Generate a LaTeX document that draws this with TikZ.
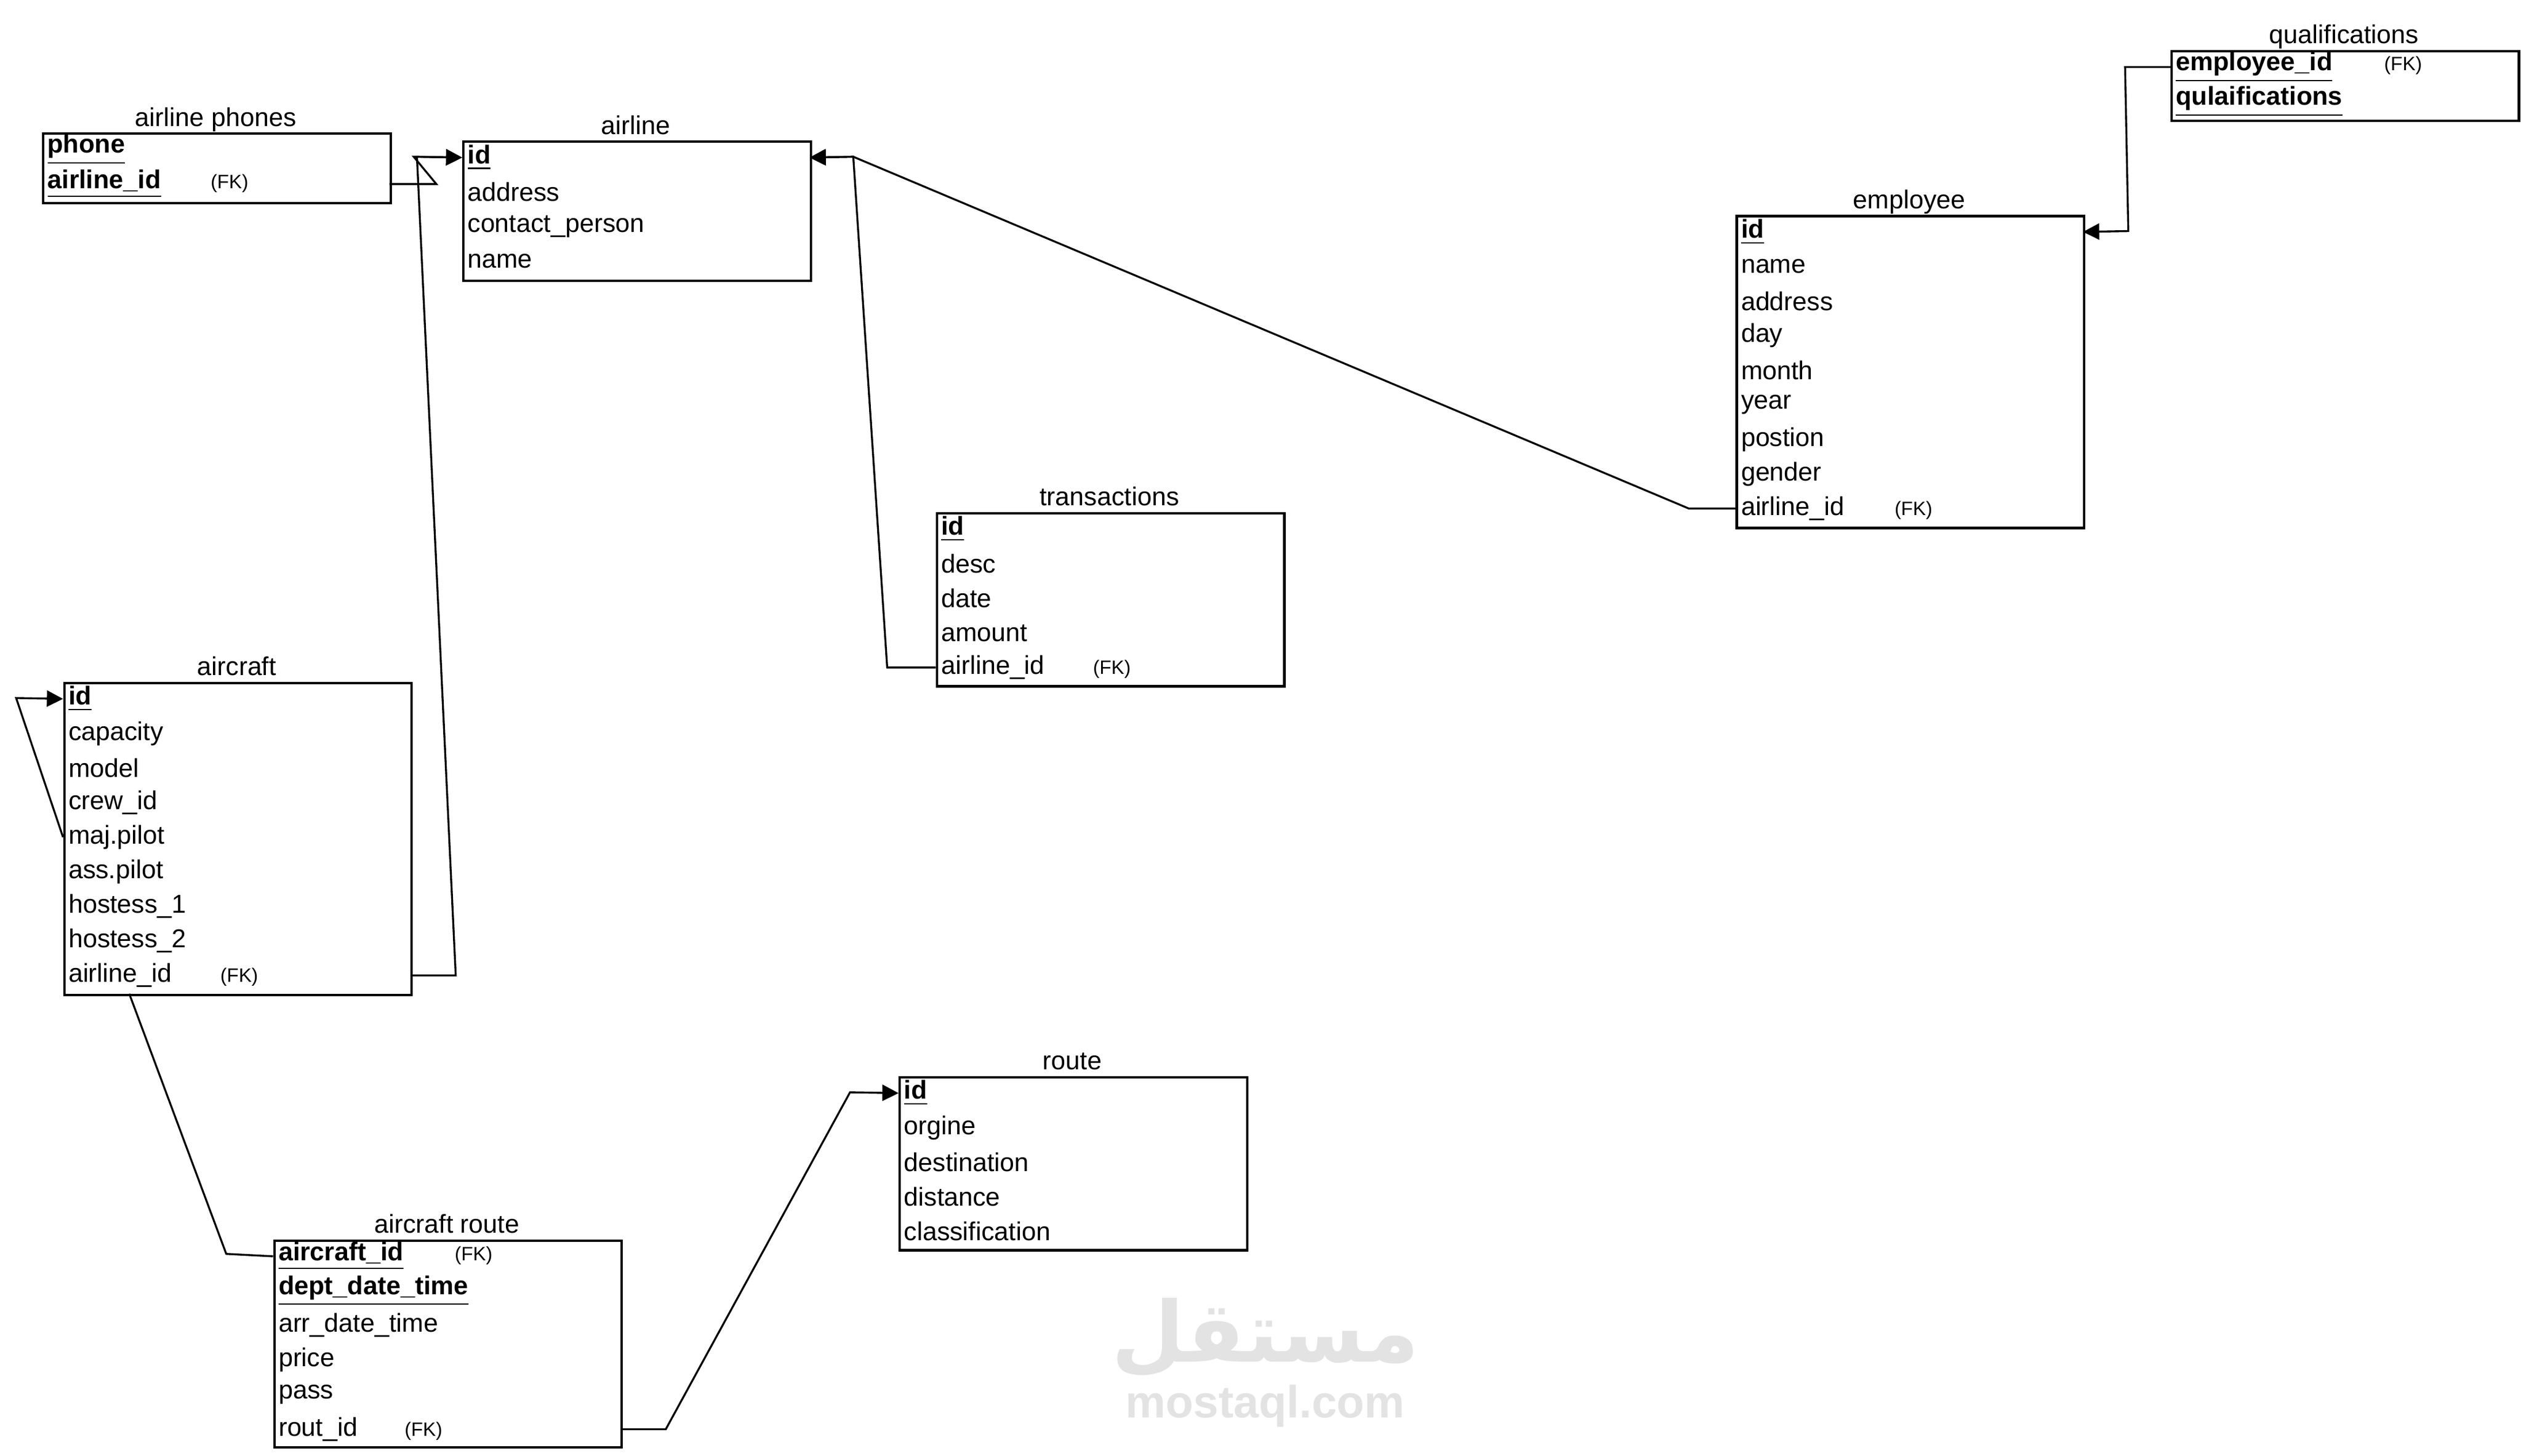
\documentclass[tikz,border=0pt]{standalone}
\usepackage{fontspec}
\setmainfont{Liberation Sans}
\newfontfamily\arabicfont[Script=Arabic]{DejaVu Sans}
\TeXXeTstate=1
\usetikzlibrary{arrows.meta,calc}

\tikzset{
  tbox/.style={draw, line width=0.75pt, inner sep=0pt, minimum width=107.5pt, anchor=north west},
  ttitle/.style={font=\fontsize{8}{9}\selectfont, anchor=base, inner sep=0pt},
  trow/.style={font=\fontsize{8}{9}\selectfont, anchor=west, inner sep=0pt},
  link/.style={line width=0.6pt},
  fkarrow/.style={link, -{Triangle[width=5pt,length=5pt]}}
}
% table: name, left x, top y, height, title, rows
\newcommand{\ertable}[6]{%
  \node[tbox, minimum height=#4*0.5pt] (#1) at (#2,#3) {};
  \node[ttitle] (#1-t) at (#2+107.5,#3-4) {#5};
  \foreach \r [count=\i] in {#6} {
    \node[trow] (#1-\i) at (#2+3,#3+10.5+21.4*\i-21.4) {\r};
    \coordinate (#1-\i w) at (#2,#3+10.5+21.4*\i-21.4);
    \coordinate (#1-\i e) at (#2+215,#3+10.5+21.4*\i-21.4);
  }
}
\newcommand{\key}[1]{\underline{\textbf{#1}}}
\newcommand{\fkrow}[2]{\makebox[#1][l]{#2}{\fontsize{6}{7}\selectfont(FK)}}

\begin{document}
\begin{tikzpicture}[x=0.5pt,y=-0.5pt]
  \useasboundingbox (0,0) rectangle (1560,901);

  % watermark
  \node[text=gray!22, font=\arabicfont\bfseries\fontsize{26}{28}\selectfont] (wm) at (783,828) {\beginR مستقل\endR};
  \node[text=gray!22, font=\bfseries\fontsize{14}{16}\selectfont] (wmurl) at (783,870) {mostaql.com};

  % tables
  \ertable{phones}{26}{82}{43}{airline phones}{\key{phone},\fkrow{50.5pt}{\key{airline\_id}}}
  \ertable{airline}{286}{87}{86}{airline}{\key{id},address,contact\_person,name}
  \ertable{qual}{1343}{31}{43}{qualifications}{\fkrow{64.5pt}{\key{employee\_id}},\key{qulaifications}}
  \ertable{employee}{1074}{133}{193}{employee}{\key{id},name,address,day,month,year,postion,gender,\fkrow{47.5pt}{airline\_id}}
  \ertable{trans}{579}{317}{107}{transactions}{\key{id},desc,date,amount,\fkrow{47pt}{airline\_id}}
  \ertable{aircraft}{39}{422}{193}{aircraft}{\key{id},capacity,model,crew\_id,maj.pilot,ass.pilot,hostess\_1,hostess\_2,\fkrow{47pt}{airline\_id}}
  \ertable{route}{556}{666}{107}{route}{\key{id},orgine,destination,distance,classification}
  \ertable{acroute}{169}{767}{128}{aircraft route}{\fkrow{54.5pt}{\key{aircraft\_id}},\key{dept\_date\_time},arr\_date\_time,price,pass,\fkrow{39pt}{rout\_id}}

  % connectors
  \draw[fkarrow] (phones-2e) -- ++(29,0) -- (256,97) -- (airline-1w);
  \draw[fkarrow] (aircraft-9e) -- ++(28,0) -- (258,97) -- (airline-1w);
  \draw[fkarrow] (trans-5w) -- ++(-30,0) -- (528,97) -- (airline-1e);
  \draw[fkarrow] (employee-9w) -- ++(-29,0) -- (528,97) -- (airline-1e);
  \draw[fkarrow] (qual-1w) -- ++(-28,0) -- (1317,143) -- (employee-1e);
  \draw[fkarrow] (aircraft-5w) -- (10,432) -- (aircraft-1w);
  \draw[link] (80,615) -- (140,776) -- (acroute-1w);
  \draw[fkarrow] (acroute-6e) -- ++(28,0) -- (526,676) -- (route-1w);
\end{tikzpicture}
\end{document}
